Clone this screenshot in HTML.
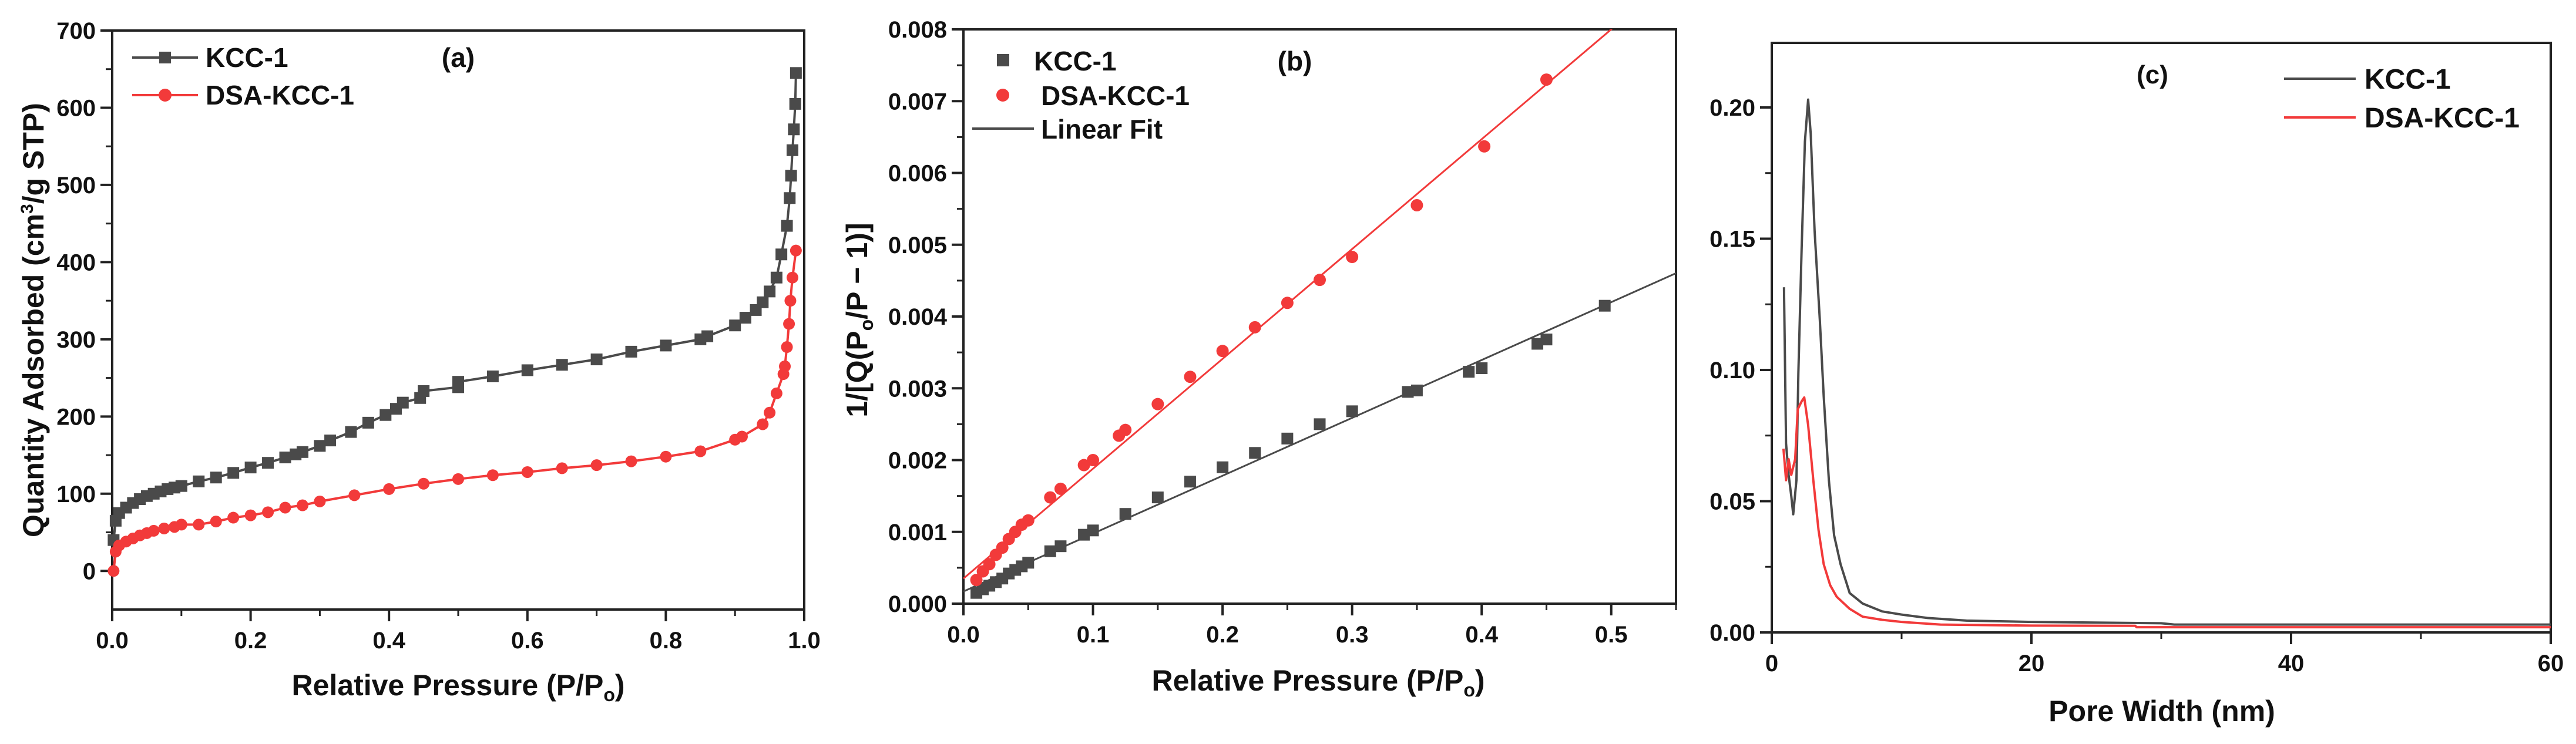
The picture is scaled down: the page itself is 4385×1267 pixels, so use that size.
<!DOCTYPE html>
<html><head><meta charset="utf-8">
<style>
html,body{margin:0;padding:0;background:#fff;}
svg{display:block;font-family:"Liberation Sans",Arial,sans-serif;font-weight:bold;}
</style></head>
<body>
<svg id="fig" width="4385" height="1267" viewBox="0 0 4385 1267" xmlns="http://www.w3.org/2000/svg"></svg>
<script>
// ---------- Panel (a) data ----------
const aKccX = [0.002,0.005,0.01,0.02,0.03,0.04,0.05,0.06,0.07,0.08,0.09,0.1,0.125,0.15,0.175,0.2,0.225,0.25,0.265,0.275,0.3,0.315,0.345,0.37,0.395,0.41,0.42,0.445,0.45,0.5,0.5,0.55,0.6,0.65,0.7,0.75,0.8,0.85,0.86,0.9,0.915,0.93,0.94,0.95,0.96,0.967,0.975,0.979,0.981,0.983,0.985,0.987,0.988];
const aKccY = [40,65,75,82,88,93,97,100,103,106,108,110,116,121,127,134,140,147,151,154,162,169,180,192,202,210,218,224,233,238,245,252,260,267,274,284,292,300,304,318,328,338,348,362,380,410,447,483,512,545,572,605,645];
const aDsaX = [0.002,0.005,0.01,0.02,0.03,0.04,0.05,0.06,0.075,0.09,0.1,0.125,0.15,0.175,0.2,0.225,0.25,0.275,0.3,0.35,0.4,0.45,0.5,0.55,0.6,0.65,0.7,0.75,0.8,0.85,0.9,0.91,0.94,0.95,0.96,0.97,0.972,0.975,0.978,0.98,0.983,0.988];
const aDsaY = [0,25,33,38,42,46,49,52,55,57,60,60,64,69,72,76,82,85,90,98,106,113,119,124,128,133,137,142,148,155,170,174,190,205,230,255,265,290,320,350,380,415];
const aXTicks = ["0.0","0.2","0.4","0.6","0.8","1.0"];
const aYTicks = ["0","100","200","300","400","500","600","700"];

// ---------- Panel (b) data ----------
const bKccX = [0.01,0.015,0.02,0.025,0.03,0.035,0.04,0.045,0.05,0.067,0.075,0.093,0.1,0.125,0.15,0.175,0.2,0.225,0.25,0.275,0.3,0.343,0.35,0.39,0.4,0.443,0.45,0.495];
const bKccY = [0.00015,0.0002,0.00025,0.0003,0.00035,0.00042,0.00047,0.00052,0.00057,0.00073,0.0008,0.00096,0.00102,0.00125,0.00148,0.0017,0.0019,0.0021,0.0023,0.0025,0.00268,0.00295,0.00297,0.00323,0.00328,0.00362,0.00368,0.00415];
const bDsaX = [0.01,0.015,0.02,0.025,0.03,0.035,0.04,0.045,0.05,0.067,0.075,0.093,0.1,0.12,0.125,0.15,0.175,0.2,0.225,0.25,0.275,0.3,0.35,0.402,0.45];
const bDsaY = [0.00033,0.00045,0.00055,0.00068,0.00078,0.0009,0.001,0.0011,0.00116,0.00148,0.0016,0.00193,0.002,0.00234,0.00242,0.00278,0.00316,0.00352,0.00385,0.00419,0.00451,0.00483,0.00555,0.00637,0.0073];
const bKccFit = [0.00017, 0.00806]; // intercept, slope
const bDsaFit = [0.00035, 0.0153];
const bXTicks = ["0.0","0.1","0.2","0.3","0.4","0.5"];
const bYTicks = ["0.000","0.001","0.002","0.003","0.004","0.005","0.006","0.007","0.008"];

// ---------- Panel (c) data ----------
const cKccX = [0.94,1.1,1.3,1.5,1.65,1.9,2.05,2.3,2.55,2.8,3.0,3.3,3.7,4.0,4.4,4.8,5.3,6,7,8.5,10,12,15,20,30,31,60];
const cKccY = [0.1315,0.072,0.06,0.052,0.045,0.058,0.099,0.146,0.187,0.203,0.19,0.153,0.119,0.09,0.058,0.037,0.026,0.015,0.011,0.008,0.0068,0.0055,0.0045,0.004,0.0035,0.003,0.003];
const cDsaX = [0.9,1.1,1.3,1.5,1.8,2.0,2.3,2.5,2.8,3.2,3.6,4.0,4.5,5,6,7,8.5,10,13,20,28,28.1,60];
const cDsaY = [0.07,0.058,0.066,0.06,0.066,0.085,0.088,0.0895,0.079,0.058,0.039,0.026,0.018,0.0136,0.009,0.006,0.0048,0.004,0.003,0.0026,0.0025,0.002,0.002];
const cXTicks = ["0","20","40","60"];
const cYTicks = ["0.00","0.05","0.10","0.15","0.20"];

const NS = "http://www.w3.org/2000/svg";
const svg = document.getElementById("fig");
const GRAY = "#4a4a4a", RED = "#f23a3a";

function mk(tag, attrs, parent) {
  const e = document.createElementNS(NS, tag);
  for (const k in attrs) e.setAttribute(k, attrs[k]);
  (parent || svg).appendChild(e);
  return e;
}
function scale(d0, d1, r0, r1) { return v => r0 + (v - d0) * (r1 - r0) / (d1 - d0); }

function axes(g, P, sx, sy, xt, yt, xMinor, yMinor, name) {
  const box = mk("rect", {x:P.l, y:P.t, width:P.r-P.l, height:P.b-P.t, fill:"none", stroke:"#222", "stroke-width":4}, g);
  
  
  xt.forEach(t => {
    const v = parseFloat(t), x = sx(v);
    const tk = mk("line", {x1:x, x2:x, y1:P.b, y2:P.b+20, stroke:"#222", "stroke-width":4}, g);
    
    
    const tx = mk("text", {x:x, y:P.b+66, "font-size":40, "text-anchor":"middle", fill:"#111"}, g);
    tx.textContent = t;
    
    
  });
  xMinor.forEach(v => {
    const x = sx(v);
    const tk = mk("line", {x1:x, x2:x, y1:P.b, y2:P.b+11, stroke:"#222", "stroke-width":3}, g);
    
    
  });
  yt.forEach(t => {
    const v = parseFloat(t), y = sy(v);
    const tk = mk("line", {x1:P.l-20, x2:P.l, y1:y, y2:y, stroke:"#222", "stroke-width":4}, g);
    
    
    const tx = mk("text", {x:P.l-28, y:y+14, "font-size":40, "text-anchor":"end", fill:"#111"}, g);
    tx.textContent = t;
    
    
  });
  yMinor.forEach(v => {
    const y = sy(v);
    const tk = mk("line", {x1:P.l-11, x2:P.l, y1:y, y2:y, stroke:"#222", "stroke-width":3}, g);
    
    
  });
}
function polyline(g, xs, ys, sx, sy, color, w, name) {
  const pts = xs.map((x, i) => sx(x).toFixed(1) + "," + sy(ys[i]).toFixed(1)).join(" ");
  const p = mk("polyline", {points:pts, fill:"none", stroke:color, "stroke-width":w, "stroke-linejoin":"round"}, g);
  
  
}
function squares(g, xs, ys, sx, sy, color, s, name) {
  xs.forEach((x, i) => {
    const r = mk("rect", {x:sx(x)-s/2, y:sy(ys[i])-s/2, width:s, height:s, fill:color}, g);
    
    
  });
}
function circles(g, xs, ys, sx, sy, color, rad, name) {
  xs.forEach((x, i) => {
    const c = mk("circle", {cx:sx(x), cy:sy(ys[i]), r:rad, fill:color}, g);
    
    
  });
}
function text(g, x, y, s, size, anchor, name, rot) {
  const t = mk("text", {x:x, y:y, "font-size":size, "text-anchor":anchor, fill:"#111"}, g);
  if (rot) t.setAttribute("transform", `rotate(-90 ${x} ${y})`);
  t.innerHTML = s;
  
  
  return t;
}
function range(a, b, st) { const r = []; for (let v = a; v <= b + st*1e-6; v += st) r.push(+v.toFixed(6)); return r; }

// ---------- Panel (a) ----------
{
  const g = mk("g", {});
  
  
  const P = {l:191, r:1369, t:52, b:1038};
  const sx = scale(0, 1, P.l, P.r), sy = scale(-50, 700, P.b, P.t);
  axes(g, P, sx, sy, aXTicks, aYTicks, range(0.1, 0.9, 0.2), range(50, 650, 100), "panel-a");
  polyline(g, aKccX, aKccY, sx, sy, GRAY, 4, "kcc1-isotherm-line");
  squares(g, aKccX, aKccY, sx, sy, GRAY, 20, "kcc1-isotherm-point");
  polyline(g, aDsaX, aDsaY, sx, sy, RED, 4, "dsa-kcc1-isotherm-line");
  circles(g, aDsaX, aDsaY, sx, sy, RED, 10, "dsa-kcc1-isotherm-point");
  let l = mk("line", {x1:225, x2:337, y1:98, y2:98, stroke:GRAY, "stroke-width":4}, g);
   
  let m = mk("rect", {x:271, y:88, width:20, height:20, fill:GRAY}, g);
   
  text(g, 350, 114, "KCC-1", 46, "start", "legend-kcc1-label");
  l = mk("line", {x1:225, x2:337, y1:162, y2:162, stroke:RED, "stroke-width":4}, g);
   
  m = mk("circle", {cx:281, cy:162, r:11, fill:RED}, g);
   
  text(g, 350, 178, "DSA-KCC-1", 46, "start", "legend-dsa-label");
  text(g, 780, 114, "(a)", 46, "middle", "panel-a-label");
  text(g, 780, 1184, 'Relative Pressure (P/P<tspan font-size="32" dy="10">o</tspan><tspan dy="-10">)</tspan>', 50, "middle", "panel-a-x-axis-title");
  text(g, 74, 545, 'Quantity Adsorbed (cm<tspan font-size="30" dy="-18">3</tspan><tspan dy="18">/g STP)</tspan>', 50, "middle", "panel-a-y-axis-title", true);
}

// ---------- Panel (b) ----------
{
  const g = mk("g", {});
  
  
  const P = {l:1640, r:2853, t:50, b:1028};
  const sx = scale(0, 0.55, P.l, P.r), sy = scale(0, 0.008, P.b, P.t);
  axes(g, P, sx, sy, bXTicks, bYTicks, range(0.05, 0.55, 0.1), range(0.0005, 0.0075, 0.001), "panel-b");
  const cp = mk("clipPath", {id:"clipb"}, g);
  mk("rect", {x:P.l, y:P.t, width:P.r-P.l, height:P.b-P.t}, cp);
  const fits = mk("g", {"clip-path":"url(#clipb)"}, g);
  
  
  let f = mk("line", {x1:sx(0), y1:sy(bKccFit[0]), x2:sx(0.55), y2:sy(bKccFit[0]+bKccFit[1]*0.55), stroke:GRAY, "stroke-width":3}, fits);
   
  f = mk("line", {x1:sx(0), y1:sy(bDsaFit[0]), x2:sx(0.55), y2:sy(bDsaFit[0]+bDsaFit[1]*0.55), stroke:RED, "stroke-width":3}, fits);
   
  squares(g, bKccX, bKccY, sx, sy, GRAY, 20, "kcc1-bet-point");
  circles(g, bDsaX, bDsaY, sx, sy, RED, 10.5, "dsa-kcc1-bet-point");
  let m = mk("rect", {x:1697, y:92, width:21, height:21, fill:GRAY}, g);
   
  text(g, 1760, 120, "KCC-1", 46, "start", "legend-kcc1-label");
  m = mk("circle", {cx:1707, cy:162, r:11, fill:RED}, g);
   
  text(g, 1772, 179, "DSA-KCC-1", 46, "start", "legend-dsa-label");
  let l = mk("line", {x1:1655, x2:1760, y1:219, y2:219, stroke:GRAY, "stroke-width":4}, g);
   
  text(g, 1772, 236, "Linear Fit", 46, "start", "legend-fit-label");
  text(g, 2204, 120, "(b)", 46, "middle", "panel-b-label");
  text(g, 2244, 1176, 'Relative Pressure (P/P<tspan font-size="32" dy="10">o</tspan><tspan dy="-10">)</tspan>', 50, "middle", "panel-b-x-axis-title");
  text(g, 1476, 545, '1/[Q(P<tspan font-size="32" dy="10">o</tspan><tspan dy="-10">/P − 1)]</tspan>', 50, "middle", "panel-b-y-axis-title", true);
}

// ---------- Panel (c) ----------
{
  const g = mk("g", {});
  
  
  const P = {l:3016, r:4342, t:73, b:1077};
  const sx = scale(0, 60, P.l, P.r), sy = scale(0, 0.2246, P.b, P.t);
  axes(g, P, sx, sy, cXTicks, cYTicks, range(10, 50, 20), range(0.025, 0.175, 0.05), "panel-c");
  polyline(g, cKccX, cKccY, sx, sy, GRAY, 4, "kcc1-pore-size-curve");
  polyline(g, cDsaX, cDsaY, sx, sy, RED, 4, "dsa-kcc1-pore-size-curve");
  let l = mk("line", {x1:3888, x2:4010, y1:134, y2:134, stroke:GRAY, "stroke-width":4}, g);
   
  text(g, 4025, 151, "KCC-1", 48, "start", "legend-kcc1-label");
  l = mk("line", {x1:3888, x2:4010, y1:200, y2:200, stroke:RED, "stroke-width":4}, g);
   
  text(g, 4025, 217, "DSA-KCC-1", 48, "start", "legend-dsa-label");
  text(g, 3664, 142, "(c)", 44, "middle", "panel-c-label");
  text(g, 3680, 1228, "Pore Width (nm)", 50, "middle", "panel-c-x-axis-title");
}
</script>
</body></html>
